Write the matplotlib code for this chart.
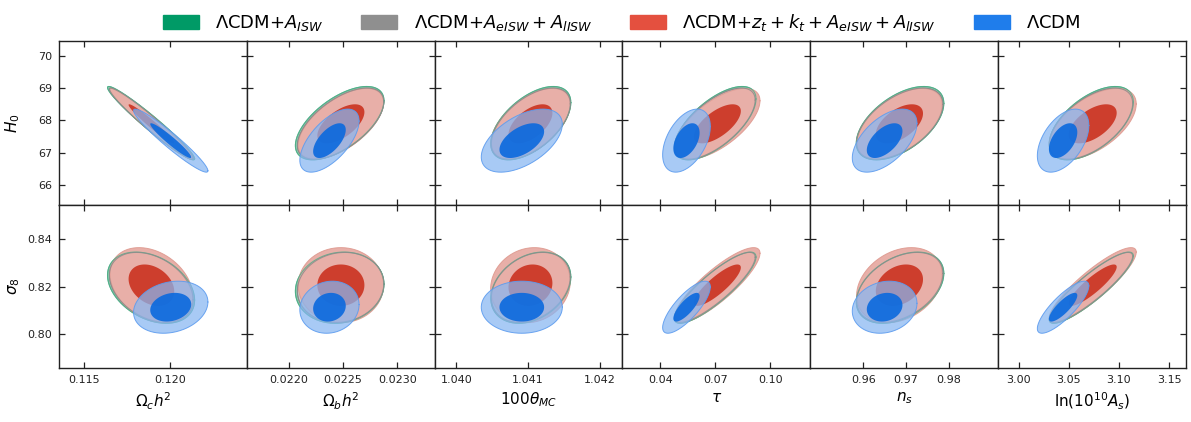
import numpy as np
import matplotlib
matplotlib.use('Agg')
import matplotlib.pyplot as plt
from matplotlib.patches import Patch

# column parameters: omch2, ombh2, 100theta, tau, ns, ln(10^10 As)
x_labels = [r'$\Omega_c h^2$', r'$\Omega_b h^2$', r'$100\theta_{MC}$', r'$\tau$', r'$n_s$',
            r'${\rm ln}(10^{10} A_s)$']
y_labels = [r'$H_0$', r'$\sigma_8$']

x_ticks = [[0.115, 0.120], [0.0220, 0.0225, 0.0230], [1.040, 1.041, 1.042],
           [0.04, 0.07, 0.10], [0.96, 0.97, 0.98], [3.00, 3.05, 3.10, 3.15]]
x_ticklabels = [['0.115', '0.120'], ['0.0220', '0.0225', '0.0230'], ['1.040', '1.041', '1.042'],
                ['0.04', '0.07', '0.10'], ['0.96', '0.97', '0.98'], ['3.00', '3.05', '3.10', '3.15']]
y_ticks = [[66, 67, 68, 69, 70], [0.80, 0.82, 0.84]]
y_ticklabels = [['66', '67', '68', '69', '70'], ['0.80', '0.82', '0.84']]

x_lims = [(0.11355, 0.12444), (0.021617, 0.023342), (1.039697, 1.04232),
          (0.0193, 0.122), (0.9476, 0.99156), (2.9797, 3.1667)]
y_lims = [(65.40, 70.455), (0.7859, 0.8545)]

# LCDM + A_ISW
green_mean = [0.11889, 0.02247, 1.04104, 0.0700, 0.9686, 3.0724]
green_sigma = [0.00103, 0.000166, 0.000228, 0.0091, 0.00418, 0.0171]
green_h0 = (67.915, 0.463)
green_s8 = (0.8196, 0.0061)
green_rho_h0 = [-0.97, 0.61, 0.56, 0.66, 0.54, 0.57]
green_rho_s8 = [-0.35, 0.10, 0.30, 0.86, 0.40, 0.89]

# LCDM + A_eISW + A_lISW
gray_mean = [0.11890, 0.022478, 1.04104, 0.0698, 0.96855, 3.0722]
gray_sigma = [0.00099, 0.000162, 0.000225, 0.0090, 0.00412, 0.0169]
gray_h0 = (67.90, 0.449)
gray_s8 = (0.8197, 0.0060)
gray_rho_h0 = [-0.97, 0.61, 0.56, 0.66, 0.54, 0.57]
gray_rho_s8 = [-0.35, 0.10, 0.30, 0.86, 0.40, 0.89]

# LCDM + z_t + k_t + A_eISW + A_lISW
red_mean = [0.11891, 0.022481, 1.041035, 0.07116, 0.96845, 3.0738]
red_sigma = [0.00098, 0.000160, 0.000227, 0.00952, 0.00409, 0.0177]
red_h0 = (67.895, 0.447)
red_s8 = (0.82065, 0.00643)
red_rho_h0 = [-0.97, 0.60, 0.55, 0.65, 0.53, 0.56]
red_rho_s8 = [-0.30, 0.0, 0.10, 0.85, 0.28, 0.88]

# LCDM
blue_mean = [0.12003, 0.022376, 1.040914, 0.05429, 0.96499, 3.04435]
blue_sigma = [0.00088, 0.000111, 0.000231, 0.00532, 0.00309, 0.01047]
blue_h0 = (67.375, 0.398)
blue_s8 = (0.8114, 0.00446)
blue_rho_h0 = [-0.955, 0.62, 0.52, 0.45, 0.55, 0.48]
blue_rho_s8 = [0.20, 0.10, 0.0, 0.78, 0.15, 0.82]

K_INNER, K_OUTER = 1.35, 2.45


def ellipse(mx, my, sx, sy, rho, k):
    t = np.linspace(0, 2 * np.pi, 300)
    cov = np.array([[sx ** 2, rho * sx * sy], [rho * sx * sy, sy ** 2]])
    L = np.linalg.cholesky(cov)
    pts = k * (L @ np.vstack([np.cos(t), np.sin(t)]))
    return mx + pts[0], my + pts[1]


models = [
    dict(mean=green_mean, sigma=green_sigma, h0=green_h0, s8=green_s8,
         rho=[green_rho_h0, green_rho_s8], light='#93d1b4', dark='#2e9c70', edge='#4fae88', alpha=1.0),
    dict(mean=gray_mean, sigma=gray_sigma, h0=gray_h0, s8=gray_s8,
         rho=[gray_rho_h0, gray_rho_s8], light='#cacaca', dark='#8e8e8e', edge='#8a8a8a', alpha=1.0),
    dict(mean=red_mean, sigma=red_sigma, h0=red_h0, s8=red_s8,
         rho=[red_rho_h0, red_rho_s8], light='#e8afa8', dark='#cd3e2d', edge='#de9a90', alpha=1.0),
    dict(mean=blue_mean, sigma=blue_sigma, h0=blue_h0, s8=blue_s8,
         rho=[blue_rho_h0, blue_rho_s8], light='#87b6f2', dark='#0a69de', edge='#5d9cef', alpha=0.72),
]

fig, axes = plt.subplots(2, 6, figsize=(11.91, 4.22), dpi=100)
fig.subplots_adjust(left=0.0495, right=0.9958, top=0.9028, bottom=0.128, wspace=0, hspace=0)

for row in range(2):
    for col in range(6):
        ax = axes[row, col]
        for n, m in enumerate(models):
            my, sy = m['h0'] if row == 0 else m['s8']
            mx, sx = m['mean'][col], m['sigma'][col]
            rho = m['rho'][row][col]
            a = 0.9 if n == 3 else 1.0
            xo, yo = ellipse(mx, my, sx, sy, rho, K_OUTER)
            xi, yi = ellipse(mx, my, sx, sy, rho, K_INNER)
            ax.fill(xo, yo, color=m['light'], alpha=m['alpha'], lw=0, zorder=2 + n)
            ax.plot(xo, yo, color=m['edge'], lw=0.7, alpha=0.9, zorder=2 + n)
            ax.fill(xi, yi, color=m['dark'], alpha=a, lw=0, zorder=2 + n)
            if n == 2:
                # outer edges of the ISW-only runs stay visible on top of the red fill
                for g in models[:2]:
                    gy, gsy = g['h0'] if row == 0 else g['s8']
                    gx, gy2 = ellipse(g['mean'][col], gy, g['sigma'][col], gsy, g['rho'][row][col], K_OUTER)
                    ax.plot(gx, gy2, color=g['edge'], lw=0.8, alpha=0.8, zorder=4.5)

        ax.set_xlim(x_lims[col])
        ax.set_ylim(y_lims[row])
        ax.set_xticks(x_ticks[col])
        ax.set_yticks(y_ticks[row])
        ax.tick_params(direction='in', top=True, right=True, length=4.5, width=0.9,
                       labelsize=8, pad=5, colors='#222222')
        for s in ax.spines.values():
            s.set_linewidth(1.0)
            s.set_color('#222222')
        if row == 1:
            ax.set_xticklabels(x_ticklabels[col])
            ax.set_xlabel(x_labels[col], fontsize=11, labelpad=4)
        else:
            ax.set_xticklabels([])
        if col == 0:
            ax.set_yticklabels(y_ticklabels[row])
            ax.set_ylabel(y_labels[row], fontsize=11)
        else:
            ax.set_yticklabels([])

fig.align_ylabels(axes[:, 0])

handles = [Patch(color='#009a66'), Patch(color='#8f8f8f'), Patch(color='#e4503f'), Patch(color='#1f7deb')]
labels = [r'$\Lambda$CDM+$A_{ISW}$', r'$\Lambda$CDM+$A_{eISW}+A_{lISW}$',
          r'$\Lambda$CDM+$z_t+k_t+A_{eISW}+A_{lISW}$', r'$\Lambda$CDM']
fig.legend(handles, labels, loc='upper center', bbox_to_anchor=(0.522, 1.01), ncol=4, frameon=False,
           fontsize=13, handlelength=2.0, handleheight=0.8, handletextpad=0.9, columnspacing=2.1)

plt.savefig('out.png', dpi=100)
